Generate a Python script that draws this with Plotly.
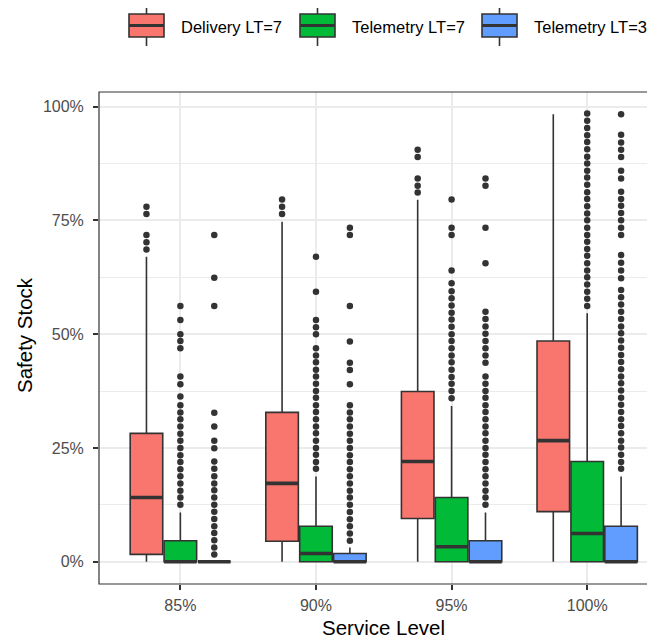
import plotly.graph_objects as go

# ---------------- data ----------------
categories = ["85%", "90%", "95%", "100%"]
series_names = ["Delivery LT=7", "Telemetry LT=7", "Telemetry LT=3"]

delivery_q1 = [0.016, 0.045, 0.095, 0.110]
delivery_median = [0.141, 0.172, 0.220, 0.266]
delivery_q3 = [0.282, 0.328, 0.374, 0.485]
delivery_lower = [0.0, 0.0, 0.0, 0.0]
delivery_upper = [0.670, 0.747, 0.795, 0.983]
delivery_outliers = [
    [0.686, 0.702, 0.718, 0.764, 0.780],
    [0.764, 0.780, 0.796],
    [0.811, 0.826, 0.842, 0.889, 0.905],
    [],
]

tele7_q1 = [0.0, 0.0, 0.0, 0.0]
tele7_median = [0.0, 0.018, 0.033, 0.062]
tele7_q3 = [0.046, 0.078, 0.141, 0.220]
tele7_lower = [0.0, 0.0, 0.0, 0.0]
tele7_upper = [0.108, 0.187, 0.342, 0.546]
tele7_outliers = [
    [0.125, 0.141, 0.156, 0.172, 0.188, 0.203, 0.219, 0.234, 0.250, 0.266,
     0.281, 0.297, 0.313, 0.328, 0.344, 0.363, 0.390, 0.407, 0.469, 0.485,
     0.500, 0.531, 0.562],
    [0.204, 0.219, 0.235, 0.250, 0.266, 0.282, 0.297, 0.313, 0.329, 0.344,
     0.360, 0.375, 0.391, 0.407, 0.422, 0.438, 0.453, 0.469, 0.500, 0.515,
     0.531, 0.593, 0.670],
    [0.359, 0.375, 0.391, 0.406, 0.422, 0.438, 0.453, 0.469, 0.485, 0.500,
     0.516, 0.532, 0.547, 0.563, 0.579, 0.594, 0.612, 0.640, 0.718, 0.734,
     0.796],
    [0.562, 0.578, 0.593, 0.609, 0.625, 0.640, 0.656, 0.672, 0.687, 0.703,
     0.718, 0.734, 0.750, 0.765, 0.781, 0.797, 0.812, 0.828, 0.844, 0.859,
     0.875, 0.890, 0.906, 0.922, 0.937, 0.953, 0.969, 0.985],
]

tele3_q1 = [0.0, 0.0, 0.0, 0.0]
tele3_median = [0.0, 0.0, 0.0, 0.0]
tele3_q3 = [0.0, 0.018, 0.046, 0.078]
tele3_lower = [0.0, 0.0, 0.0, 0.0]
tele3_upper = [0.0, 0.031, 0.108, 0.187]
tele3_outliers = [
    [0.016, 0.031, 0.047, 0.063, 0.078, 0.094, 0.110, 0.125, 0.141, 0.157,
     0.172, 0.188, 0.204, 0.220, 0.249, 0.266, 0.297, 0.327, 0.562, 0.624,
     0.718],
    [0.046, 0.062, 0.078, 0.093, 0.109, 0.125, 0.141, 0.156, 0.172, 0.188,
     0.203, 0.219, 0.234, 0.250, 0.266, 0.281, 0.297, 0.313, 0.328, 0.344,
     0.390, 0.421, 0.437, 0.484, 0.562, 0.718, 0.734],
    [0.125, 0.141, 0.156, 0.172, 0.188, 0.203, 0.219, 0.235, 0.250, 0.266,
     0.282, 0.297, 0.313, 0.329, 0.344, 0.360, 0.375, 0.391, 0.407, 0.437,
     0.453, 0.469, 0.485, 0.501, 0.517, 0.533, 0.549, 0.656, 0.734, 0.826,
     0.842],
    [0.204, 0.219, 0.235, 0.251, 0.266, 0.282, 0.298, 0.313, 0.329, 0.345,
     0.360, 0.376, 0.392, 0.407, 0.423, 0.439, 0.454, 0.470, 0.486, 0.502,
     0.517, 0.533, 0.549, 0.565, 0.581, 0.597, 0.623, 0.640, 0.657, 0.674,
     0.718, 0.734, 0.750, 0.766, 0.782, 0.797, 0.813, 0.842, 0.859, 0.889,
     0.905, 0.921, 0.938, 0.983],
]

y_tick_values = [0, 0.25, 0.5, 0.75, 1.0]
y_tick_labels = ["0%", "25%", "50%", "75%", "100%"]

# ---------------- style / layout ----------------
colors = ["#F8766D", "#00BA38", "#619CFF"]
dark = "#333333"
font_family = "Liberation Sans, Arial, sans-serif"

PAGE_W, PAGE_H = 655, 639
OFF = 8  # default body margin of the html page
W, H = PAGE_W - OFF, PAGE_H - OFF
PLOT_X0, PLOT_X1 = 99, 655      # page pixels
PLOT_Y0, PLOT_Y1 = 92, 584      # page pixels
L_M = PLOT_X0 - OFF
T_M = PLOT_Y0 - OFF
R_M = PAGE_W - PLOT_X1
B_M = PAGE_H - PLOT_Y1
PW = PLOT_X1 - PLOT_X0
PH = PLOT_Y1 - PLOT_Y0

dodge_offsets = [-0.25, 0.0, 0.25]
box_w = 0.24

series = [
    (delivery_q1, delivery_median, delivery_q3, delivery_lower, delivery_upper, delivery_outliers),
    (tele7_q1, tele7_median, tele7_q3, tele7_lower, tele7_upper, tele7_outliers),
    (tele3_q1, tele3_median, tele3_q3, tele3_lower, tele3_upper, tele3_outliers),
]

fig = go.Figure()
cat_pos = list(range(1, len(categories) + 1))

for s, (q1, med, q3, lo, hi, outs) in enumerate(series):
    xs = [p + dodge_offsets[s] for p in cat_pos]
    fig.add_trace(go.Box(
        x=xs, q1=q1, median=med, q3=q3, lowerfence=lo, upperfence=hi,
        width=box_w, fillcolor=colors[s], line=dict(color=dark, width=1.6),
        whiskerwidth=0, boxpoints=False, name=series_names[s], showlegend=False,
    ))
    # thick median line (ggplot fatten)
    mx, my = [], []
    for x, m in zip(xs, med):
        mx += [x - box_w / 2, x + box_w / 2, None]
        my += [m, m, None]
    fig.add_trace(go.Scatter(x=mx, y=my, mode="lines",
                             line=dict(color=dark, width=3.6),
                             showlegend=False, hoverinfo="skip"))
    # outliers
    ox, oy = [], []
    for x, vals in zip(xs, outs):
        ox += [x] * len(vals)
        oy += vals
    fig.add_trace(go.Scatter(x=ox, y=oy, mode="markers",
                             marker=dict(color=dark, size=6.5, line=dict(width=0)),
                             showlegend=False, hoverinfo="skip"))


def px_to_paper_x(px):
    return (px - PLOT_X0) / PW


def px_to_paper_y(py):
    return (PLOT_Y1 - py) / PH


# custom legend (ggplot style keys)
shapes = []
annotations = []
legend_key_x = [129, 300, 482]
key_w, key_top, key_bot = 35, 14, 37
whisk_top, whisk_bot = 6, 46
for i, name in enumerate(series_names):
    x0 = legend_key_x[i]
    x1 = x0 + key_w
    xc = (x0 + x1) / 2
    ym = (key_top + key_bot) / 2
    shapes.append(dict(type="line", xref="paper", yref="paper",
                       x0=px_to_paper_x(xc), x1=px_to_paper_x(xc),
                       y0=px_to_paper_y(whisk_top), y1=px_to_paper_y(whisk_bot),
                       line=dict(color=dark, width=1.6)))
    shapes.append(dict(type="rect", xref="paper", yref="paper",
                       x0=px_to_paper_x(x0), x1=px_to_paper_x(x1),
                       y0=px_to_paper_y(key_bot), y1=px_to_paper_y(key_top),
                       fillcolor=colors[i], line=dict(color=dark, width=1.6)))
    shapes.append(dict(type="line", xref="paper", yref="paper",
                       x0=px_to_paper_x(x0), x1=px_to_paper_x(x1),
                       y0=px_to_paper_y(ym), y1=px_to_paper_y(ym),
                       line=dict(color=dark, width=3.2)))
    annotations.append(dict(text=name, xref="paper", yref="paper",
                            x=px_to_paper_x(x1 + 15), y=px_to_paper_y(26.5),
                            xanchor="left", yanchor="middle", showarrow=False,
                            font=dict(family=font_family, size=16.5, color="#000000")))

# panel border (right side lies beyond the cropped image)
shapes.append(dict(type="rect", xref="paper", yref="paper", x0=0, x1=1.05, y0=0, y1=1,
                   line=dict(color=dark, width=1.2), fillcolor="rgba(0,0,0,0)", layer="above"))

# axis titles
annotations.append(dict(text="Service Level", xref="paper", yref="paper",
                        x=px_to_paper_x(383), y=px_to_paper_y(627),
                        xanchor="center", yanchor="middle", showarrow=False,
                        font=dict(family=font_family, size=20.5, color="#000000")))
annotations.append(dict(text="Safety Stock", xref="paper", yref="paper",
                        x=px_to_paper_x(24), y=px_to_paper_y(335),
                        xanchor="center", yanchor="middle", showarrow=False, textangle=-90,
                        font=dict(family=font_family, size=20.5, color="#000000")))

fig.update_layout(
    width=W, height=H,
    margin=dict(l=L_M, r=R_M, t=T_M, b=B_M, pad=0),
    paper_bgcolor="white", plot_bgcolor="white",
    boxmode="overlay",
    showlegend=False,
    shapes=shapes, annotations=annotations,
    font=dict(family=font_family),
    xaxis=dict(range=[0.4, 4.5], tickvals=cat_pos, ticktext=categories,
               showgrid=True, gridcolor="#EBEBEB", gridwidth=1.6, zeroline=False,
               ticks="outside", ticklen=5, tickwidth=1.6, tickcolor=dark,
               ticklabelstandoff=2,
               tickfont=dict(family=font_family, size=16, color="#4D4D4D"),
               showline=False, fixedrange=True),
    yaxis=dict(range=[-0.049, 1.032], tickvals=y_tick_values, ticktext=y_tick_labels,
               showgrid=True, gridcolor="#EBEBEB", gridwidth=1.6, zeroline=False,
               ticks="outside", ticklen=5, tickwidth=1.6, tickcolor=dark,
               ticklabelstandoff=6,
               tickfont=dict(family=font_family, size=16, color="#4D4D4D"),
               minor=dict(tickvals=[0.125, 0.375, 0.625, 0.875], showgrid=True,
                          gridcolor="#EBEBEB", gridwidth=0.8, ticks=""),
               showline=False, fixedrange=True),
)

fig.write_html("out.html")
